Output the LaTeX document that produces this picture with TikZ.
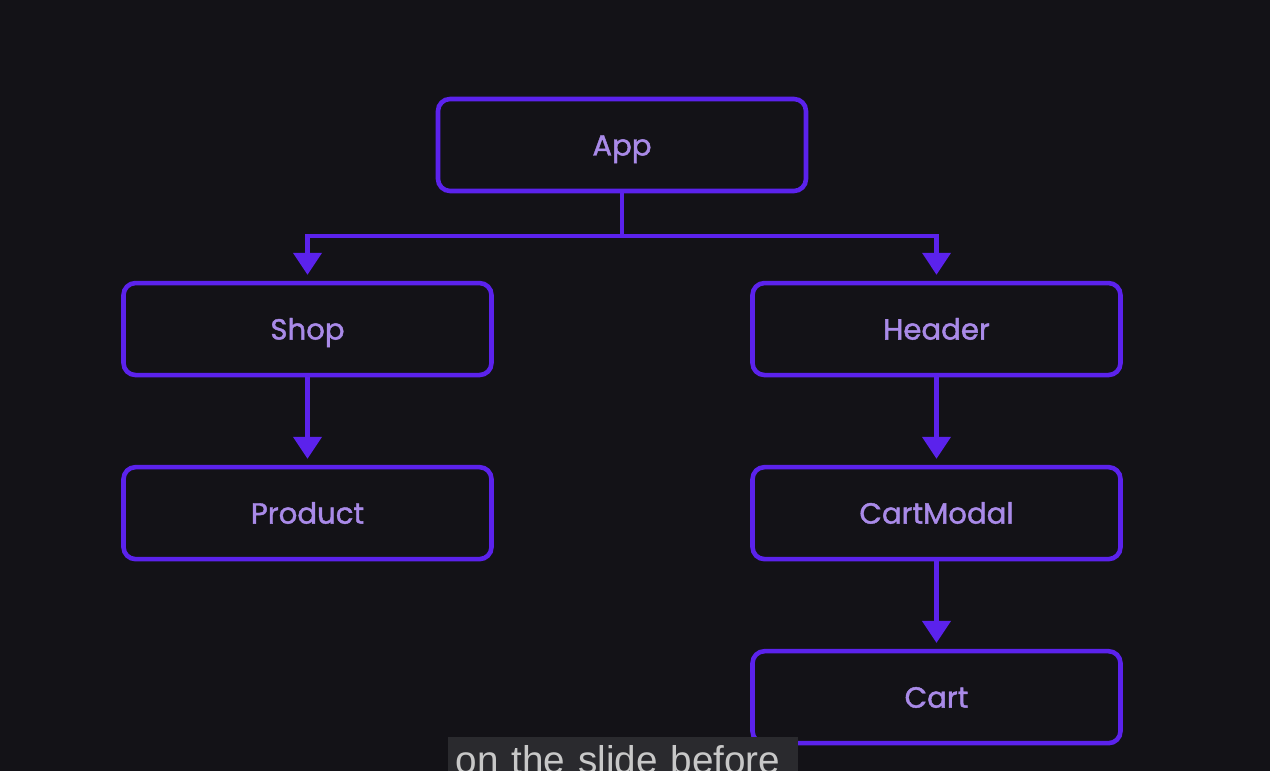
\documentclass[tikz,border=0pt]{standalone}
\usepackage{fontspec}
\setmainfont{Poppins}
\newfontfamily\boxfont{Poppins}[BoldFont={Poppins}, BoldFeatures={FakeBold=1.4}]
\newfontfamily\capfont{Liberation Sans}
\usepackage{xcolor}
\usepackage{tikz}
\usetikzlibrary{arrows.meta}
\usetikzlibrary{positioning}
\definecolor{bgdark}{HTML}{131217}
\definecolor{boxpurple}{HTML}{5B22EC}
\definecolor{textpurple}{HTML}{A98AE8}
\definecolor{capgray}{HTML}{2A2A2E}
\definecolor{captext}{HTML}{C8C8C8}
\tikzstyle{box} = [rectangle, rounded corners=0.12cm, minimum width=3.68cm, minimum height=0.92cm, text centered, text height=0.21cm, text depth=0cm, draw=boxpurple, line width=1.3pt, text=textpurple, font=\boxfont\bfseries\fontsize{8.3pt}{10pt}\selectfont]
\tikzstyle{arrow} = [line width=1.2pt, -{Triangle[width=0.28cm,length=0.22cm]}, boxpurple, shorten >=0.06cm]
\tikzstyle{captionbox} = [fill=capgray, text=captext, inner xsep=0.08cm, inner ysep=0pt, text width=3.34cm, text height=0.37cm, align=left, font=\capfont\fontsize{11pt}{13pt}\selectfont]

\begin{document}
\begin{tikzpicture}[node distance=0.875cm, auto]
    \fill [bgdark] (0,0) rectangle (12.70,7.71);
    \useasboundingbox (0,0) rectangle (12.70,7.71);
    \node (app) [box] at (6.22,6.26) {App};
    \node (shop) [box, below = of app, xshift=-3.145cm] {Shop};
    \node (header) [box, below = of app, xshift=3.145cm] {Header};
    \node (product) [box, below = of shop] {Product};
    \node (cartmodal) [box, below = of header] {CartModal};
    \node (cart) [box, below = of cartmodal] {Cart};
    \draw [arrow] (app.south) -- ++(0,-0.43) -| (shop.north);
    \draw [arrow] (app.south) -- ++(0,-0.43) -| (header.north);
    \draw [arrow] (shop) -- (product);
    \draw [arrow] (header) -- (cartmodal);
    \draw [arrow] (cartmodal) -- (cart);
    \node (caption) [captionbox, anchor=base west] at (4.47,-0.03) {on the slide before};
\end{tikzpicture}
\end{document}
